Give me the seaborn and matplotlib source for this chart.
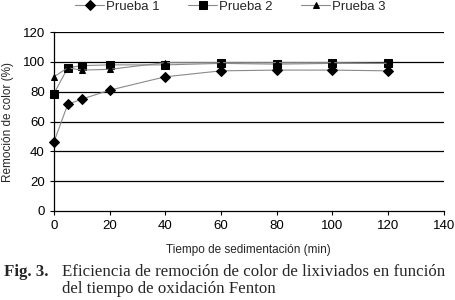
import matplotlib; matplotlib.use("Agg")
import matplotlib.pyplot as plt
import pandas as pd
import seaborn as sns

tiempo = [0, 5, 10, 20, 40, 60, 80, 100, 120]
prueba_1 = [46, 71.5, 75, 81, 90, 94, 94.5, 94.5, 94]
prueba_2 = [78.5, 96, 97.5, 98, 98, 99, 98.5, 99, 99]
prueba_3 = [90, 96, 94.5, 95, 99.5, 99.5, 99.5, 99.5, 99]
series = ["Prueba 1", "Prueba 2", "Prueba 3"]
y_ticks = [0, 20, 40, 60, 80, 100, 120]
x_ticks = [0, 20, 40, 60, 80, 100, 120, 140]

df = pd.DataFrame({"t": tiempo * 3,
                   "v": prueba_1 + prueba_2 + prueba_3,
                   "s": [s for s in series for _ in tiempo]})

sns.set_theme(style="white")
plt.rcParams["font.family"] = ["Liberation Sans", "DejaVu Sans"]

fig = plt.figure(figsize=(4.56, 3.0), dpi=100)
ax = fig.add_axes([0.118, 0.297, 0.855, 0.596])

styles = {"Prueba 1": ("D", 5.5), "Prueba 2": ("s", 5.5), "Prueba 3": ("^", 4.5)}
for s in series:
    sub = df[df["s"] == s]
    m, ms = styles[s]
    sns.lineplot(data=sub, x="t", y="v", ax=ax, color="#8a8a8a", lw=0.8,
                 marker=m, markersize=ms, markerfacecolor="black",
                 markeredgecolor="black", label=s)
for ln in ax.lines:
    ln.set_clip_on(False)

ax.set_xlim(0, 140); ax.set_ylim(0, 120)
ax.set_xticks(x_ticks); ax.set_yticks(y_ticks)
for y in y_ticks[1:]:
    ax.axhline(y, color="black", lw=0.9, zorder=0)
for side in ["top", "right"]:
    ax.spines[side].set_visible(False)
for side in ["left", "bottom"]:
    ax.spines[side].set_color("black"); ax.spines[side].set_linewidth(0.9)
ax.tick_params(axis="both", direction="out", length=3, width=0.8,
               colors="black", labelsize=9.5, left=True, bottom=True)
ax.set_xlabel("Tiempo de sedimentación (min)", fontsize=8.5, labelpad=9)
ax.set_ylabel("Remoción de color (%)", fontsize=8.5, labelpad=6)

leg = ax.legend(loc="center", bbox_to_anchor=(0.505, 0.977),
                bbox_transform=fig.transFigure, ncol=3, frameon=False,
                fontsize=9.5, handlelength=2.2, columnspacing=2.2,
                handletextpad=0.1)

serif = ["Liberation Serif", "DejaVu Serif"]
fig.text(0.008, 0.08, "Fig. 3.", fontsize=12.2, fontweight="bold",
         family=serif, va="baseline")
fig.text(0.135, 0.08, "Eficiencia de remoción de color de lixiviados en función",
         fontsize=12.2, family=serif, va="baseline")
fig.text(0.135, 0.023, "del tiempo de oxidación Fenton",
         fontsize=12.2, family=serif, va="baseline")

fig.savefig("out.png", dpi=100, facecolor="white")
